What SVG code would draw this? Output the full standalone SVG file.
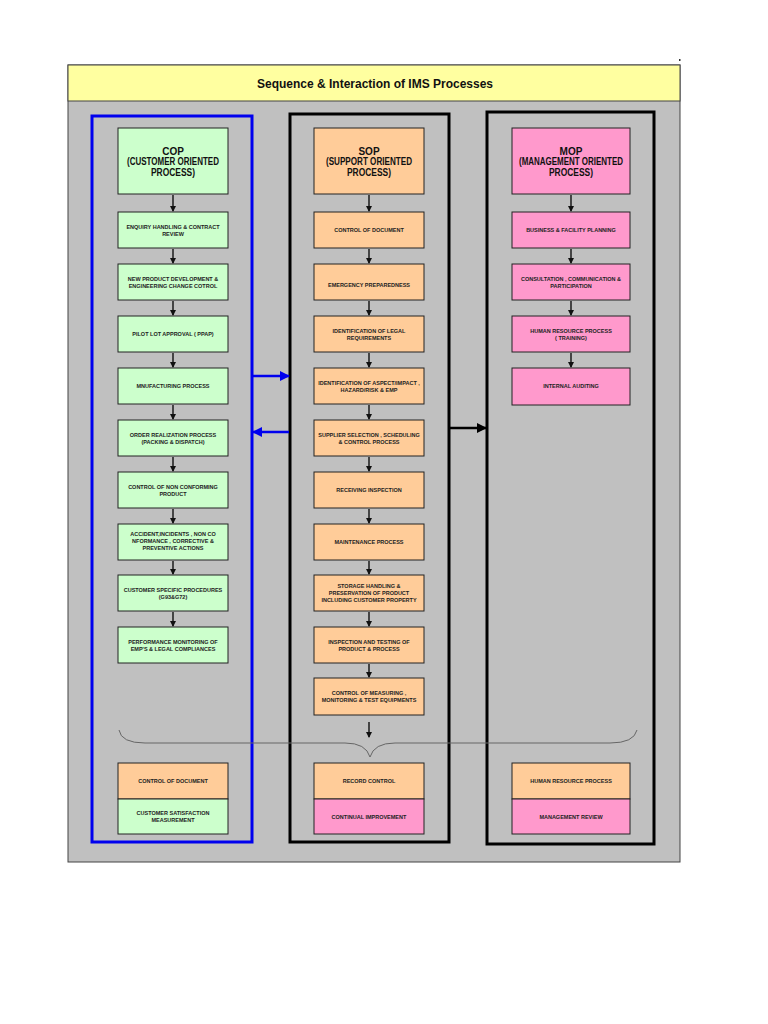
<svg xmlns="http://www.w3.org/2000/svg" width="768" height="1024" viewBox="0 0 768 1024">
<style>
.t{font-family:"Liberation Sans",Arial,sans-serif;font-weight:bold;fill:#222;text-anchor:middle;font-size:5.5px}
.h{font-family:"Liberation Sans",Arial,sans-serif;font-weight:bold;fill:#111;text-anchor:middle;font-size:10px}
.g{fill:#CCFFCC;stroke:#222;stroke-width:1}
.o{fill:#FFCC99;stroke:#222;stroke-width:1}
.p{fill:#FF99CC;stroke:#222;stroke-width:1}
.c{stroke:#111;stroke-width:1.4;fill:none;marker-end:url(#ah)}
</style>
<defs>
<marker id="ah" markerWidth="6" markerHeight="6" refX="5" refY="3" orient="auto" markerUnits="userSpaceOnUse"><path d="M0,0 L6,3 L0,6 z" fill="#111"/></marker>
<marker id="bh" markerWidth="10" markerHeight="10" refX="9" refY="5" orient="auto" markerUnits="userSpaceOnUse"><path d="M0,0 L10,5 L0,10 z" fill="#0000EE"/></marker>
<marker id="kh" markerWidth="10" markerHeight="10" refX="9" refY="5" orient="auto" markerUnits="userSpaceOnUse"><path d="M0,0 L10,5 L0,10 z" fill="#000"/></marker>
</defs>
<rect width="768" height="1024" fill="#fff"/>
<rect x="68" y="65" width="612" height="797" fill="#C0C0C0" stroke="#444" stroke-width="1"/>
<rect x="68" y="65" width="612" height="36" fill="#FFFFA0" stroke="#444" stroke-width="1"/>
<rect x="679" y="59" width="1.5" height="2" fill="#333"/>
<text x="375" y="88" font-family="'Liberation Sans',Arial,sans-serif" font-weight="bold" font-size="13.5" fill="#111" text-anchor="middle" textLength="236" lengthAdjust="spacingAndGlyphs">Sequence &amp; Interaction of IMS Processes</text>

<g id="frames">
<rect x="92" y="116" width="160" height="726" fill="none" stroke="#0000EE" stroke-width="3"/>
<rect x="290" y="114" width="159" height="728" fill="none" stroke="#000" stroke-width="3"/>
<rect x="487" y="112" width="167" height="732" fill="none" stroke="#000" stroke-width="3"/>
</g>

<g id="connectors">
<line class="c" x1="173" y1="195" x2="173" y2="211"/>
<line class="c" x1="173" y1="249" x2="173" y2="263"/>
<line class="c" x1="173" y1="301" x2="173" y2="315"/>
<line class="c" x1="173" y1="353" x2="173" y2="367"/>
<line class="c" x1="173" y1="405" x2="173" y2="419"/>
<line class="c" x1="173" y1="457" x2="173" y2="471"/>
<line class="c" x1="173" y1="509" x2="173" y2="523"/>
<line class="c" x1="173" y1="561" x2="173" y2="574"/>
<line class="c" x1="173" y1="612" x2="173" y2="626"/>
<line class="c" x1="369" y1="195" x2="369" y2="211"/>
<line class="c" x1="369" y1="249" x2="369" y2="263"/>
<line class="c" x1="369" y1="301" x2="369" y2="315"/>
<line class="c" x1="369" y1="353" x2="369" y2="367"/>
<line class="c" x1="369" y1="405" x2="369" y2="419"/>
<line class="c" x1="369" y1="457" x2="369" y2="471"/>
<line class="c" x1="369" y1="509" x2="369" y2="523"/>
<line class="c" x1="369" y1="561" x2="369" y2="574"/>
<line class="c" x1="369" y1="612" x2="369" y2="626"/>
<line class="c" x1="369" y1="664" x2="369" y2="677"/>
<line class="c" x1="369" y1="722" x2="369" y2="737"/>
<line class="c" x1="571" y1="195" x2="571" y2="211"/>
<line class="c" x1="571" y1="249" x2="571" y2="263"/>
<line class="c" x1="571" y1="301" x2="571" y2="315"/>
<line class="c" x1="571" y1="353" x2="571" y2="367"/>
<line x1="253" y1="376" x2="289" y2="376" stroke="#0000EE" stroke-width="2.5" marker-end="url(#bh)"/>
<line x1="289" y1="432" x2="253" y2="432" stroke="#0000EE" stroke-width="2.5" marker-end="url(#bh)"/>
<line x1="450" y1="428" x2="486" y2="428" stroke="#000" stroke-width="2.5" marker-end="url(#kh)"/>
<path d="M119,730 Q121,743 145,743 L345,743 Q366,743 370,757 Q374,743 395,743 L610,743 Q634,743 637,730" fill="none" stroke="#666" stroke-width="1"/>
</g>

<g id="cop">
<rect class="g" x="118" y="128" width="110" height="66"/>
<text class="h" x="173" y="155">COP</text>
<text class="h" x="173" y="165" textLength="92" lengthAdjust="spacingAndGlyphs">(CUSTOMER ORIENTED</text>
<text class="h" x="173" y="175.5" textLength="44" lengthAdjust="spacingAndGlyphs">PROCESS)</text>
</g>
<g id="cop1"><rect class="g" x="118" y="212" width="110" height="36"/><text class="t" x="173" y="228.5">ENQUIRY HANDLING &amp; CONTRACT</text><text class="t" x="173" y="235.5">REVIEW</text></g>
<g id="cop2"><rect class="g" x="118" y="264" width="110" height="36"/><text class="t" x="173" y="280.5">NEW PRODUCT DEVELOPMENT &amp;</text><text class="t" x="173" y="287.5">ENGINEERING CHANGE COTROL</text></g>
<g id="cop3"><rect class="g" x="118" y="316" width="110" height="36"/><text class="t" x="173" y="336">PILOT LOT APPROVAL (  PPAP)</text></g>
<g id="cop4"><rect class="g" x="118" y="368" width="110" height="36"/><text class="t" x="173" y="388">MNUFACTURING PROCESS</text></g>
<g id="cop5"><rect class="g" x="118" y="420" width="110" height="36"/><text class="t" x="173" y="436.5">ORDER REALIZATION PROCESS</text><text class="t" x="173" y="443.5">(PACKING &amp; DISPATCH)</text></g>
<g id="cop6"><rect class="g" x="118" y="472" width="110" height="36"/><text class="t" x="173" y="488.5">CONTROL OF NON CONFORMING</text><text class="t" x="173" y="495.5">PRODUCT</text></g>
<g id="cop7"><rect class="g" x="118" y="524" width="110" height="36"/><text class="t" x="173" y="536">ACCIDENT,INCIDENTS , NON CO</text><text class="t" x="173" y="543">NFORMANCE , CORRECTIVE &amp;</text><text class="t" x="173" y="550">PREVENTIVE ACTIONS</text></g>
<g id="cop8"><rect class="g" x="118" y="575" width="110" height="36"/><text class="t" x="173" y="591.5">CUSTOMER SPECIFIC PROCEDURES</text><text class="t" x="173" y="598.5">(G93&amp;G72)</text></g>
<g id="cop9"><rect class="g" x="118" y="627" width="110" height="36"/><text class="t" x="173" y="643.5">PERFORMANCE MONITORING OF</text><text class="t" x="173" y="650.5">EMP'S &amp; LEGAL COMPLIANCES</text></g>

<g id="sop">
<rect class="o" x="314" y="128" width="110" height="66"/>
<text class="h" x="369" y="155">SOP</text>
<text class="h" x="369" y="165" textLength="86" lengthAdjust="spacingAndGlyphs">(SUPPORT ORIENTED</text>
<text class="h" x="369" y="175.5" textLength="44" lengthAdjust="spacingAndGlyphs">PROCESS)</text>
</g>
<g id="sop1"><rect class="o" x="314" y="212" width="110" height="36"/><text class="t" x="369" y="232">CONTROL OF DOCUMENT</text></g>
<g id="sop2"><rect class="o" x="314" y="264" width="110" height="36"/><text class="t" x="369" y="287">EMERGENCY PREPAREDNESS</text></g>
<g id="sop3"><rect class="o" x="314" y="316" width="110" height="36"/><text class="t" x="369" y="332.5">IDENTIFICATION OF LEGAL</text><text class="t" x="369" y="339.5">REQUIREMENTS</text></g>
<g id="sop4"><rect class="o" x="314" y="368" width="110" height="36"/><text class="t" x="369" y="384.5">IDENTIFICATION OF ASPECT/IMPACT ,</text><text class="t" x="369" y="391.5">HAZARD/RISK &amp; EMP</text></g>
<g id="sop5"><rect class="o" x="314" y="420" width="110" height="36"/><text class="t" x="369" y="436.5">SUPPLIER SELECTION , SCHEDULING</text><text class="t" x="369" y="443.5">&amp; CONTROL PROCESS</text></g>
<g id="sop6"><rect class="o" x="314" y="472" width="110" height="36"/><text class="t" x="369" y="491.5">RECEIVING INSPECTION</text></g>
<g id="sop7"><rect class="o" x="314" y="524" width="110" height="36"/><text class="t" x="369" y="543.5">MAINTENANCE PROCESS</text></g>
<g id="sop8"><rect class="o" x="314" y="575" width="110" height="36"/><text class="t" x="369" y="587.5">STORAGE HANDLING &amp;</text><text class="t" x="369" y="594.5">PRESERVATION OF PRODUCT</text><text class="t" x="369" y="601.5">INCLUDING CUSTOMER PROPERTY</text></g>
<g id="sop9"><rect class="o" x="314" y="627" width="110" height="36"/><text class="t" x="369" y="643.5">INSPECTION AND TESTING OF</text><text class="t" x="369" y="650.5">PRODUCT &amp; PROCESS</text></g>
<g id="sop10"><rect class="o" x="314" y="678" width="110" height="37"/><text class="t" x="369" y="694.5">CONTROL OF MEASURING ,</text><text class="t" x="369" y="701.5">MONITORING &amp; TEST EQUIPMENTS</text></g>

<g id="mop">
<rect class="p" x="512" y="128" width="118" height="66"/>
<text class="h" x="571" y="155">MOP</text>
<text class="h" x="571" y="165" textLength="104" lengthAdjust="spacingAndGlyphs">(MANAGEMENT ORIENTED</text>
<text class="h" x="571" y="175.5" textLength="44" lengthAdjust="spacingAndGlyphs">PROCESS)</text>
</g>
<g id="mop1"><rect class="p" x="512" y="212" width="118" height="36"/><text class="t" x="571" y="232">BUSINESS  &amp; FACILITY PLANNING</text></g>
<g id="mop2"><rect class="p" x="512" y="264" width="118" height="36"/><text class="t" x="571" y="280.5">CONSULTATION , COMMUNICATION &amp;</text><text class="t" x="571" y="287.5">PARTICIPATION</text></g>
<g id="mop3"><rect class="p" x="512" y="316" width="118" height="36"/><text class="t" x="571" y="332.5">HUMAN RESOURCE PROCESS</text><text class="t" x="571" y="339.5">( TRAINING)</text></g>
<g id="mop4"><rect class="p" x="512" y="368" width="118" height="37"/><text class="t" x="571" y="388">INTERNAL  AUDITING</text></g>

<g id="bottom-left">
<rect class="o" x="118" y="763" width="110" height="36"/><text class="t" x="173" y="783">CONTROL OF DOCUMENT</text>
<rect class="g" x="118" y="799" width="110" height="35"/><text class="t" x="173" y="815">CUSTOMER SATISFACTION</text><text class="t" x="173" y="822">MEASUREMENT</text>
</g>
<g id="bottom-mid">
<rect class="o" x="314" y="763" width="110" height="36"/><text class="t" x="369" y="783">RECORD CONTROL</text>
<rect class="p" x="314" y="799" width="110" height="35"/><text class="t" x="369" y="818.5">CONTINUAL IMPROVEMENT</text>
</g>
<g id="bottom-right">
<rect class="o" x="512" y="763" width="118" height="36"/><text class="t" x="571" y="783">HUMAN RESOURCE PROCESS</text>
<rect class="p" x="512" y="799" width="118" height="35"/><text class="t" x="571" y="818.5">MANAGEMENT REVIEW</text>
</g>
</svg>
